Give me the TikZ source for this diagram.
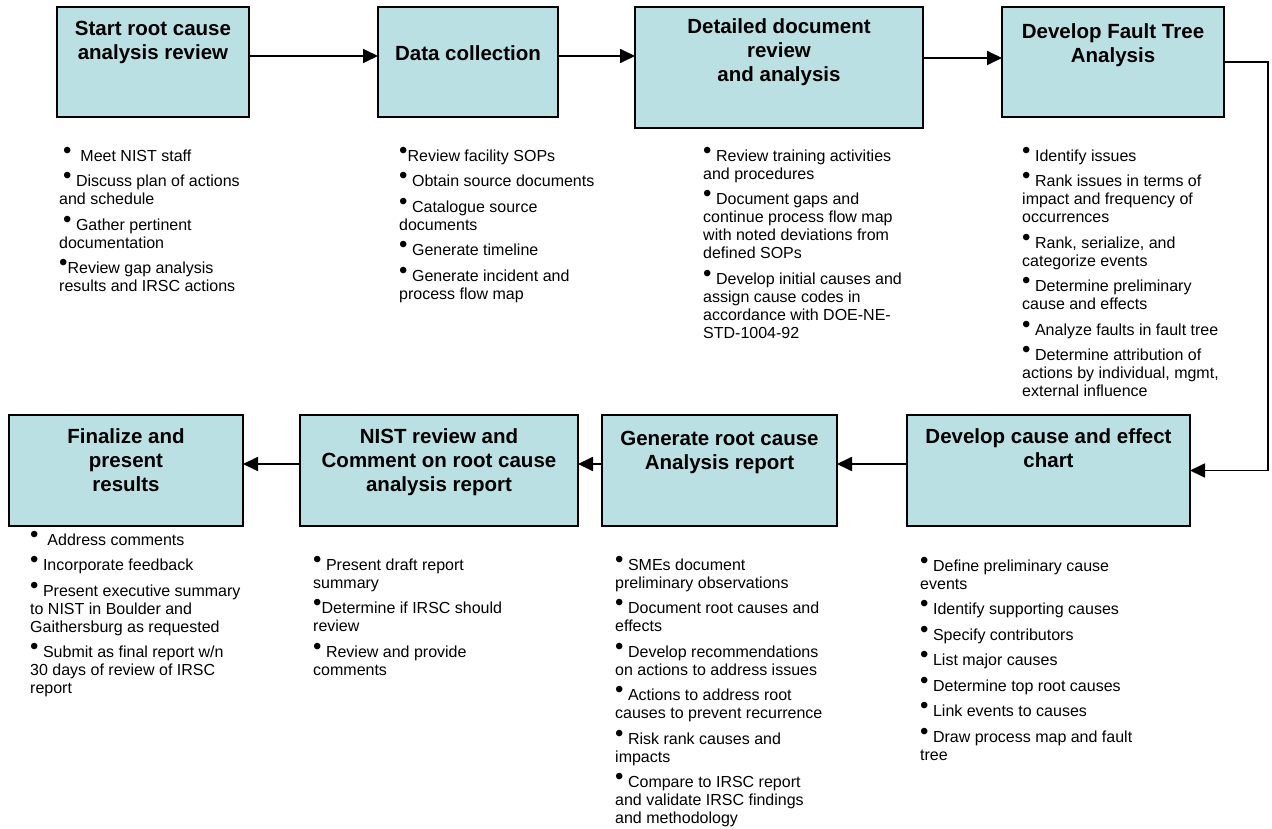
\documentclass[tikz,border=0pt]{standalone}
\usepackage{fontspec}
\setmainfont{Liberation Sans}
\usetikzlibrary{arrows.meta,shadows}

\definecolor{boxfill}{RGB}{187,224,227}
\newcommand\tstrut{\rule{0pt}{17pt}}
\newcommand\bstrut{\rule{0pt}{13pt}}
\newcommand\bul{{\fontsize{24}{24}\selectfont\raisebox{2.8pt}{•}}}
\newcommand\gap{\\[7.5pt]}

\begin{document}
\begin{tikzpicture}[x=1pt,y=-1pt,
  stepbox/.style={draw=black, line width=1.8pt, fill=boxfill, inner sep=0pt, outer sep=0pt,
    anchor=north west, drop shadow={shadow xshift=1.2pt, shadow yshift=-1.2pt, fill=black!60, opacity=1}},
  ttl/.style={anchor=north, inner sep=0pt, align=center, font=\fontsize{20.5}{24}\selectfont\bfseries},
  notes/.style={anchor=north west, inner sep=0pt, align=left, font=\fontsize{16}{18}\selectfont},
  arr/.style={line width=1.8pt, -{Triangle[length=15pt,width=14pt]}}]

\useasboundingbox (0,0) rectangle (1272,829);

% top row of process steps
\node[stepbox, minimum width=192pt, minimum height=110pt] (b1) at (57,7) {};
\node[stepbox, minimum width=180pt, minimum height=110pt] (b2) at (378,7) {};
\node[stepbox, minimum width=288pt, minimum height=121pt] (b3) at (635,7) {};
\node[stepbox, minimum width=222pt, minimum height=110pt] (b4) at (1002,7) {};

% bottom row of process steps
\node[stepbox, minimum width=234pt, minimum height=111pt] (b5) at (9,415) {};
\node[stepbox, minimum width=278pt, minimum height=111pt] (b6) at (300,415) {};
\node[stepbox, minimum width=235pt, minimum height=111pt] (b7) at (602,415) {};
\node[stepbox, minimum width=283pt, minimum height=111pt] (b8) at (907,415) {};

% step titles
\node[ttl] (t1) at (153,18.4) {\tstrut Start root cause\\analysis review};
\node[ttl] (t2) at (468,43) {\tstrut Data collection};
\node[ttl] (t3) at (779,16) {\tstrut Detailed document\\review\\and analysis};
\node[ttl] (t4) at (1113,21) {\tstrut Develop Fault Tree\\Analysis};
\node[ttl] (t5) at (126,426) {\tstrut Finalize and\\present\\results};
\node[ttl] (t6) at (439,426) {\tstrut NIST review and\\Comment on root cause\\analysis report};
\node[ttl] (t7) at (719.5,428) {\tstrut Generate root cause\\Analysis report};
\node[ttl] (t8) at (1048.5,426) {\tstrut Develop cause and effect\\chart};

% activity lists
\node[notes] (n1) at (59,147) {\bstrut\hspace*{4pt}\bul\ \ Meet NIST staff\gap
  \hspace*{4pt}\bul\ Discuss plan of actions\\and schedule\gap
  \hspace*{4pt}\bul\ Gather pertinent\\documentation\gap
  \bul Review gap analysis\\results and IRSC actions};

\node[notes] (n2) at (399,147) {\bstrut\bul Review facility SOPs\gap
  \bul\ Obtain source documents\gap
  \bul\ Catalogue source\\documents\gap
  \bul\ Generate timeline\gap
  \bul\ Generate incident and\\process flow map};

\node[notes] (n3) at (703,147) {\bstrut\bul\ Review training activities\\and procedures\gap
  \bul\ Document gaps and\\continue process flow map\\with noted deviations from\\defined SOPs\gap
  \bul\ Develop initial causes and\\assign cause codes in\\accordance with DOE-NE-\\STD-1004-92};

\node[notes] (n4) at (1022,147) {\bstrut\bul\ Identify issues\gap
  \bul\ Rank issues in terms of\\impact and frequency of\\occurrences\gap
  \bul\ Rank, serialize, and\\categorize events\gap
  \bul\ Determine preliminary\\cause and effects\gap
  \bul\ Analyze faults in fault tree\gap
  \bul\ Determine attribution of\\actions by individual, mgmt,\\external influence};

\node[notes] (n5) at (30,531) {\bstrut\bul\ \ Address comments\gap
  \bul\ Incorporate feedback\gap
  \bul\ Present executive summary\\to NIST in Boulder and\\Gaithersburg as requested\gap
  \bul\ Submit as final report w/n\\30 days of review of IRSC\\report};

\node[notes] (n6) at (313,556) {\bstrut\bul\ Present draft report\\summary\gap
  \bul Determine if IRSC should\\review\gap
  \bul\ Review and provide\\comments};

\node[notes] (n7) at (615,556) {\bstrut\bul\ SMEs document\\preliminary observations\gap
  \bul\ Document root causes and\\effects\gap
  \bul\ Develop recommendations\\on actions to address issues\gap
  \bul\ Actions to address root\\causes to prevent recurrence\gap
  \bul\ Risk rank causes and\\impacts\gap
  \bul\ Compare to IRSC report\\and validate IRSC findings\\and methodology};

\node[notes] (n8) at (920,557) {\bstrut\bul\ Define preliminary cause\\events\gap
  \bul\ Identify supporting causes\gap
  \bul\ Specify contributors\gap
  \bul\ List major causes\gap
  \bul\ Determine top root causes\gap
  \bul\ Link events to causes\gap
  \bul\ Draw process map and fault\\tree};

% flow connectors
\coordinate (p12) at ([yshift=6pt]b2.west);
\coordinate (p23) at ([yshift=6pt]b2.east);
\coordinate (p34) at ([yshift=4pt]b4.west);
\coordinate (turn) at (1268,300);
\draw[arr] (p12 -| b1.east) -- (p12);
\draw[arr] (p23) -- (p23 -| b3.west);
\draw[arr] (p34 -| b3.east) -- (p34);
\draw[arr] (b4.east) -| (turn) |- (b8.east);
\draw[arr] ([yshift=6.5pt]b8.west) -- ([yshift=6.5pt]b7.east);
\draw[arr] ([yshift=6.5pt]b7.west) -- ([yshift=6.5pt]b6.east);
\draw[arr] ([yshift=6.5pt]b6.west) -- ([yshift=6.5pt]b5.east);
\end{tikzpicture}
\end{document}
